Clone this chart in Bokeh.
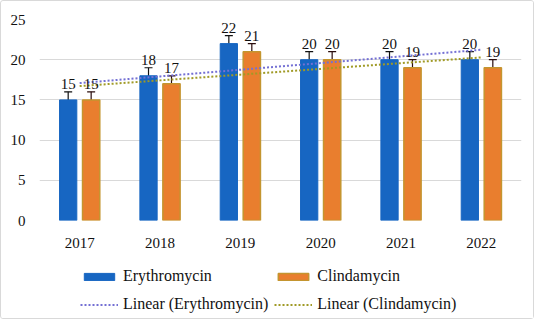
import numpy as np
from bokeh.plotting import figure
from bokeh.layouts import column
from bokeh.models import (ColumnDataSource, Legend, LegendItem, Whisker, FactorRange,
                          TeeHead, Range1d)
from bokeh.transform import dodge
from bokeh.core.properties import value
from bokeh.embed import file_html
from bokeh.resources import INLINE

years = ["2017", "2018", "2019", "2020", "2021", "2022"]
erythromycin = [15, 18, 22, 20, 20, 20]
clindamycin = [15, 17, 21, 20, 19, 19]
err = [1, 1, 1, 1, 1, 1]
y_ticks = [0, 5, 10, 15, 20, 25]

FONT = "Liberation Serif"
BLUE = "#1766C2"
ORANGE = "#E97E2E"
ORANGE_EDGE = "#C4952F"
TREND_BLUE = "#7470D4"
TREND_OLIVE = "#A09A26"

# linear trend lines (least squares, as the source chart's "Linear" trendline)
xi = np.arange(1, len(years) + 1)
ke, be = np.polyfit(xi, erythromycin, 1)
kc, bc = np.polyfit(xi, clindamycin, 1)
trend_e = list(ke * xi + be)
trend_c = list(kc * xi + bc)

src = ColumnDataSource(dict(
    years=years,
    ery=erythromycin,
    cli=clindamycin,
    ery_lo=[v - e for v, e in zip(erythromycin, err)],
    ery_hi=[v + e for v, e in zip(erythromycin, err)],
    cli_lo=[v - e for v, e in zip(clindamycin, err)],
    cli_hi=[v + e for v, e in zip(clindamycin, err)],
    ery_lbl=[str(v) for v in erythromycin],
    cli_lbl=[str(v) for v in clindamycin],
    trend_e=trend_e,
    trend_c=trend_c,
))

W_FIG = 532
p = figure(x_range=FactorRange(*years), y_range=(0, 25), width=W_FIG, height=257,
           output_backend="svg", toolbar_location=None,
           min_border_left=38, min_border_right=12, min_border_top=18, min_border_bottom=38)
p.outline_line_color = None
p.background_fill_color = "white"
p.border_fill_color = "white"

OFF = 0.143
W = 0.215
bar_e = dict(fill_color=BLUE, line_color=BLUE)
bar_c = dict(fill_color=ORANGE, line_color=ORANGE_EDGE, line_width=1.5)
line_e = dict(line_color=TREND_BLUE, line_width=2, line_dash="2 2")
line_c = dict(line_color=TREND_OLIVE, line_width=2, line_dash="2 2")

p.vbar(x=dodge("years", -OFF, range=p.x_range), top="ery", width=W, source=src, **bar_e)
p.vbar(x=dodge("years", OFF, range=p.x_range), top="cli", width=W, source=src, **bar_c)

for base, lo, hi, col in [(-OFF, "ery_lo", "ery_hi", "#111111"),
                          (OFF, "cli_lo", "cli_hi", "#2a0c0c")]:
    p.add_layout(Whisker(source=src, base=dodge("years", base, range=p.x_range),
                         lower=lo, upper=hi, line_color=col, line_width=1.2,
                         upper_head=TeeHead(size=8, line_color=col, line_width=1.2),
                         lower_head=TeeHead(size=8, line_color=col, line_width=1.2)))

p.line(x="years", y="trend_e", source=src, **line_e)
p.line(x="years", y="trend_c", source=src, **line_c)

p.text(x=dodge("years", -OFF, range=p.x_range), y="ery_hi", text="ery_lbl", source=src,
       text_align="center", text_baseline="bottom", y_offset=-3,
       text_font=value(FONT), text_font_size="15px", text_color="#111111")
p.text(x=dodge("years", OFF, range=p.x_range), y="cli_hi", text="cli_lbl", source=src,
       text_align="center", text_baseline="bottom", y_offset=-3,
       text_font=value(FONT), text_font_size="15px", text_color="#111111")

p.yaxis.ticker = y_ticks
p.ygrid.grid_line_color = "#d9d9d9"
p.xgrid.grid_line_color = None
for ax in (p.xaxis, p.yaxis):
    ax.axis_line_color = None
    ax.major_tick_line_color = None
    ax.minor_tick_line_color = None
    ax.major_tick_out = 0
    ax.major_tick_in = 0
    ax.minor_tick_out = 0
    ax.major_label_text_font = FONT
    ax.major_label_text_font_size = "15px"
    ax.major_label_text_color = "#111111"
p.yaxis.major_label_standoff = 14
p.xaxis.major_label_standoff = 17
p.x_range.range_padding = 0
p.x_range.group_padding = 0

# legend strip below the chart (sample renderers carry no drawable data)
nan = float("nan")
pl = figure(width=W_FIG, height=60, x_range=Range1d(0, 1), y_range=Range1d(0, 1),
            output_backend="svg", toolbar_location=None,
            x_axis_location=None, y_axis_location=None,
            min_border_left=0, min_border_right=0, min_border_top=0, min_border_bottom=0)
pl.outline_line_color = None
pl.grid.visible = False
pl.border_fill_color = "white"
le = pl.vbar(x=[nan], bottom=[nan], top=[nan], width=0.1, **bar_e)
lc = pl.vbar(x=[nan], bottom=[nan], top=[nan], width=0.1, **bar_c)
lte = pl.line(x=[nan, nan], y=[nan, nan], **line_e)
ltc = pl.line(x=[nan, nan], y=[nan, nan], **line_c)

legend = Legend(items=[
    LegendItem(label="Erythromycin", renderers=[le]),
    LegendItem(label="Clindamycin", renderers=[lc]),
    LegendItem(label="Linear (Erythromycin)", renderers=[lte]),
    LegendItem(label="Linear (Clindamycin)", renderers=[ltc]),
], ncols=2, orientation="horizontal", location=(41, 3))
legend.border_line_color = None
legend.background_fill_alpha = 0
legend.padding = 0
legend.margin = 0
legend.spacing = 6
legend.glyph_width = 38
legend.glyph_height = 9
legend.label_height = 22
legend.label_standoff = 5
legend.label_text_font = FONT
legend.label_text_font_size = "16px"
legend.label_text_color = "#111111"
pl.add_layout(legend, "center")

layout = column(p, pl, spacing=0)
layout.styles = {"border": "1px solid #d9d9d9", "border-radius": "3px"}

open("out.html", "w").write(file_html(layout, INLINE))
